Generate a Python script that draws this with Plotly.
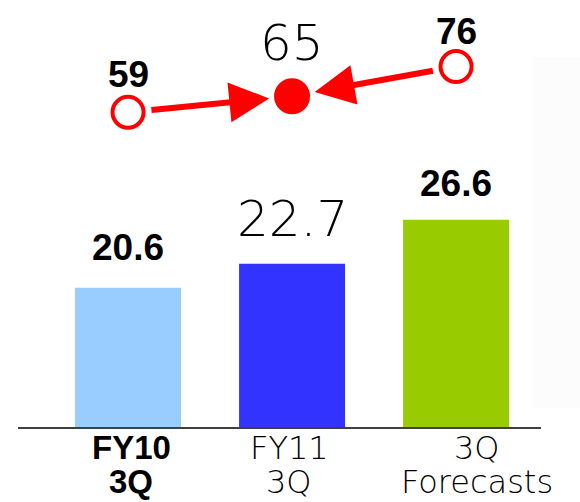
import plotly.graph_objects as go

# ---- data ----
categories = ["FY10 3Q", "FY11 3Q", "3Q Forecasts"]
tick_line1 = ["FY10", "FY11", "3Q"]
tick_line2 = ["3Q", "3Q", "Forecasts"]
bar_values = [20.6, 22.7, 26.6]
line_values = [59, 65, 76]

# ---- styles ----
bar_colors = ["#99CCFF", "#3333FF", "#99CC00"]
bar_label_bold = [True, False, True]
tick_bold = [True, False, False]
line_label_bold = [True, False, True]
marker_symbols = ["circle-open", "circle", "circle-open"]
marker_sizes = [31, 32, 31]
bar_label_shift = [40, 45, 36]
line_label_shift = [38, 53, 35]
tick_xshift = [3, -3, 21]
RED = "#FF0000"
BOLD_FONT = dict(family="Liberation Sans, Arial, sans-serif", weight=700, color="black")
THIN_FONT = dict(family="DejaVu Sans, Lato, sans-serif", weight=200, color="black")

xpos = list(range(len(categories)))

fig = go.Figure()
fig.add_trace(go.Bar(x=xpos, y=bar_values, marker=dict(color=bar_colors, line=dict(width=0)),
                     width=0.646, yaxis="y", hoverinfo="skip"))
fig.add_trace(go.Scatter(x=xpos, y=line_values, mode="markers", yaxis="y2",
                         marker=dict(symbol=marker_symbols, size=marker_sizes, color=RED,
                                     opacity=1, line=dict(color=RED, width=4)),
                         hoverinfo="skip"))

ann = []
# arrows pointing to the middle point
for src in (0, 2):
    ann.append(dict(x=xpos[1], y=line_values[1], ax=xpos[src], ay=line_values[src],
                    xref="x", yref="y2", axref="x", ayref="y2", text="",
                    showarrow=True, arrowhead=2, arrowsize=1.33, arrowwidth=6,
                    arrowcolor=RED, standoff=23, startstandoff=22))
# bar value labels
for i, v in enumerate(bar_values):
    f = dict(BOLD_FONT, size=37) if bar_label_bold[i] else dict(THIN_FONT, size=50)
    ann.append(dict(x=xpos[i], y=v, xref="x", yref="y", text=f"{v:.1f}", showarrow=False,
                    yanchor="middle", yshift=bar_label_shift[i], font=f))
# line value labels
for i, v in enumerate(line_values):
    f = dict(BOLD_FONT, size=37) if line_label_bold[i] else dict(THIN_FONT, size=50)
    ann.append(dict(x=xpos[i], y=v, xref="x", yref="y2", text=str(v), showarrow=False,
                    yanchor="middle", yshift=line_label_shift[i], font=f))
# category labels (two lines)
for i in range(len(categories)):
    f = dict(BOLD_FONT, size=33) if tick_bold[i] else dict(THIN_FONT, size=32)
    ann.append(dict(x=xpos[i], y=0.108, xref="x", yref="paper", text=tick_line1[i],
                    showarrow=False, yanchor="middle", xshift=tick_xshift[i], font=f))
    ann.append(dict(x=xpos[i], y=0.040, xref="x", yref="paper", text=tick_line2[i],
                    showarrow=False, yanchor="middle", xshift=tick_xshift[i], font=f))

fig.update_layout(
    width=580, height=502, margin=dict(l=0, r=0, t=0, b=0),
    paper_bgcolor="white", plot_bgcolor="white", showlegend=False,
    xaxis=dict(domain=[18 / 580, 541 / 580], range=[-0.671, 2.518], showline=True,
               linecolor="#404040", linewidth=2, showticklabels=False, ticks="",
               showgrid=False, zeroline=False),
    yaxis=dict(domain=[75 / 502, 1], range=[8.3, 45.99], visible=False, showgrid=False),
    yaxis2=dict(overlaying="y", range=[-57.85, 100.71], visible=False, showgrid=False),
    annotations=ann,
    shapes=[dict(type="rect", xref="paper", yref="paper", x0=533 / 580, x1=1,
                 y0=(502 - 408) / 502, y1=(502 - 57) / 502, fillcolor="#fcfcfc",
                 line=dict(width=0), layer="below")],
)

fig.write_html("out.html")
